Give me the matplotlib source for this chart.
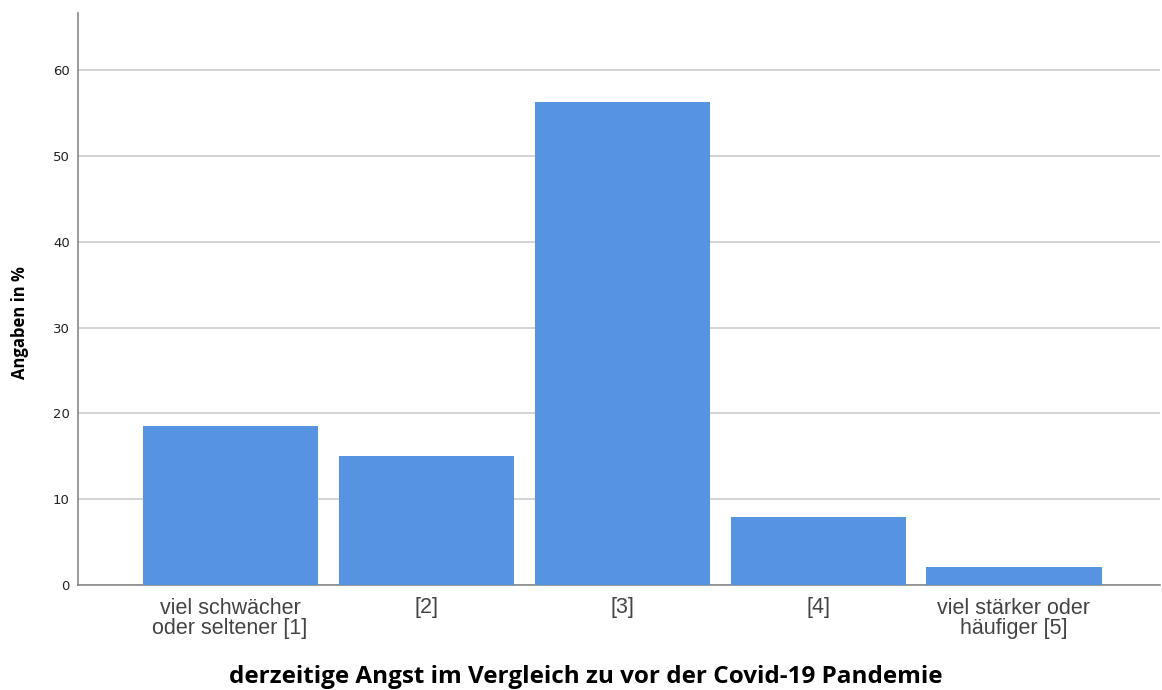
import matplotlib
matplotlib.use("Agg")
import matplotlib.pyplot as plt

categories = ["viel schwächer\noder seltener [1]", "[2]", "[3]", "[4]", "viel stärker oder\nhäufiger [5]"]
values = [18.5, 15.0, 56.3, 7.9, 2.1]
yticks = [0, 10, 20, 30, 40, 50, 60]

fig = plt.figure(figsize=(11.62, 6.9), dpi=100)
ax = fig.add_axes([78/1162, 1-585/690, (1160-78)/1162, (585-13)/690])
x = list(range(len(categories)))
ax.bar(x, values, width=0.893, color="#5694E2", zorder=3)
ax.set_xlim(-0.776, 4.745)
ax.set_ylim(0, 66.7)
ax.set_yticks(yticks)
ax.set_yticklabels([str(t) for t in yticks], fontsize=9.5, color="#222222", family="DejaVu Sans")
ax.set_xticks(x)
ax.set_xticklabels(categories, fontsize=15.5, color="#444444", family="Liberation Sans", linespacing=0.95)
ax.tick_params(axis="both", length=0, pad=6)
ax.tick_params(axis="x", pad=9)
ax.grid(axis="y", color="#cccccc", linewidth=1.2, zorder=0)
for s in ["top", "right"]:
    ax.spines[s].set_visible(False)
for s in ["left", "bottom"]:
    ax.spines[s].set_color("#888888")
    ax.spines[s].set_linewidth(1.2)
ax.set_ylabel("Angaben in %", fontsize=12, fontweight="bold", family="Open Sans")
ax.yaxis.set_label_coords(-58/1082, (585-323)/572)
ax.set_xlabel("derzeitige Angst im Vergleich zu vor der Covid-19 Pandemie", fontsize=17.5, fontweight="bold", family="Open Sans")
ax.xaxis.set_label_coords((586-78)/1082, -(677-585)/572)
ax.xaxis.label.set_va("center")
ax.yaxis.label.set_va("center")
fig.savefig("out.png", dpi=100)
